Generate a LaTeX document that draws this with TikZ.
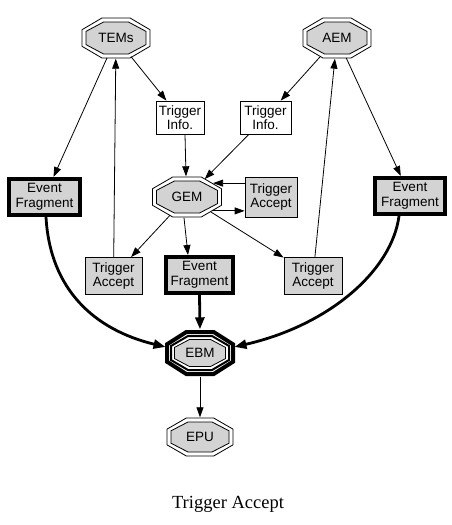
\documentclass[tikz,border=0pt]{standalone}
\usepackage{fontspec}
\setmainfont{Liberation Sans}
\newfontfamily\capfont{Liberation Serif}
\usetikzlibrary{arrows.meta,shapes.geometric,calc}
\definecolor{ngray}{HTML}{D3D3D3}
\newcommand\octo[4]{%
  \path[#4] ($(#1)+(#2,{0.414*#3})$) -- ($(#1)+({0.414*#2},#3)$) -- ($(#1)+({-0.414*#2},#3)$) -- ($(#1)+(-#2,{0.414*#3})$) -- ($(#1)+(-#2,{-0.414*#3})$) -- ($(#1)+({-0.414*#2},-#3)$) -- ($(#1)+({0.414*#2},-#3)$) -- ($(#1)+(#2,{-0.414*#3})$) -- cycle;}
\tikzset{
  lbl/.style={font=\fontsize{13.5}{14.5}\selectfont, align=center},
  octnode/.style={lbl, ellipse, inner sep=0pt},
  boxw/.style={lbl, rectangle, draw, line width=0.8pt, fill=white, inner sep=0pt},
  boxg/.style={lbl, rectangle, draw, line width=0.8pt, fill=ngray, inner sep=0pt},
  boxef/.style={lbl, rectangle, draw, line width=4pt, fill=ngray, inner sep=0pt, minimum height=36pt},
  thin edge/.style={draw, line width=0.8pt, -{Triangle[length=10pt,width=7pt]}},
  thick edge/.style={draw, line width=2.8pt, -{Triangle[length=12pt,width=9pt]}},
  octout/.style={draw, line width=0.8pt, fill=white},
  octin/.style={draw, line width=0.8pt, fill=ngray}
}
\begin{document}
\begin{tikzpicture}[x=1pt,y=-1pt]
\useasboundingbox (0,0) rectangle (452,525);
% octagon centres
\coordinate (cT) at (116,38);
\coordinate (cA) at (337,38);
\coordinate (cG) at (187,197);
\coordinate (cB) at (200,353);
\coordinate (cE) at (200,437);
% octagon outlines
\octo{cT}{34}{20}{octout}\octo{cT}{30}{16}{octin}
\octo{cA}{34}{20}{octout}\octo{cA}{30}{16}{octin}
\octo{cG}{34.5}{20}{octout}\octo{cG}{30.5}{16}{octin}
\octo{cE}{33}{19}{octout}\octo{cE}{29}{15}{octin}
\octo{cB}{33}{21}{draw,line width=4pt,fill=white}
\octo{cB}{29}{17}{draw,line width=2pt}
\octo{cB}{25.5}{13.5}{draw,line width=0.8pt,fill=ngray}
% octagon nodes
\node[octnode, minimum width=69pt, minimum height=41pt] (tems) at (cT) {TEMs};
\node[octnode, minimum width=69pt, minimum height=41pt] (aem) at (cA) {AEM};
\node[octnode, minimum width=70pt, minimum height=41pt] (gem) at (cG) {GEM};
\node[octnode, minimum width=71pt, minimum height=47pt] (ebm) at (cB) {EBM};
\node[octnode, minimum width=67pt, minimum height=39pt] (epu) at (cE) {EPU};
% boxes
\node[boxw, minimum width=48pt, minimum height=33pt] (til) at (180,117.5) {Trigger\\Info.};
\node[boxw, minimum width=51pt, minimum height=33pt] (tir) at (265.5,117.5) {Trigger\\Info.};
\node[boxg, minimum width=52pt, minimum height=40pt] (tag) at (271,197) {Trigger\\Accept};
\node[boxg, minimum width=57pt, minimum height=37pt] (tal) at (113.5,276) {Trigger\\Accept};
\node[boxg, minimum width=58pt, minimum height=37pt] (tar) at (313,276) {Trigger\\Accept};
\node[boxef, minimum width=71pt] (efl) at (44.5,197) {Event\\Fragment};
\node[boxef, minimum width=70pt] (efr) at (410,196) {Event\\Fragment};
\node[boxef, minimum width=67pt] (efc) at (199.5,275) {Event\\Fragment};
% caption
\node[font=\capfont\fontsize{18.5}{20}\selectfont, anchor=base] (cap) at (228,508) {Trigger Accept};
% thin edges
\path[thin edge] (tems) -- (efl);
\path[thin edge] (tems) -- (til);
\path[thin edge] (tal) -- (tems);
\path[thin edge] (aem) -- (tir);
\path[thin edge] (aem) -- (efr);
\path[thin edge] (tar) -- (aem);
\path[thin edge] ([xshift=5pt]til.south) -- ([xshift=-1pt]gem.north);
\path[thin edge] (tir) -- (gem);
\path[thin edge] (tag.west |- gem.28) -- (gem.28);
\path[thin edge] (gem.-28) -- (tag.west |- gem.-28);
\path[thin edge] (gem) -- (tal);
\path[thin edge] ([xshift=-3pt]gem.south) -- ([xshift=-11.5pt]efc.north);
\path[thin edge] (gem) -- (tar);
\path[thin edge] (ebm.south) -- (epu.north);
% thick edges
\path[thick edge] ([xshift=1.5pt]efl.south) .. controls (50,290) and (95,330) .. (ebm.170);
\path[thick edge] ([xshift=-11pt]efr.south) .. controls (392,270) and (330,325) .. (ebm.10);
\path[thick edge] (efc.south) -- (ebm.north);
\end{tikzpicture}
\end{document}
